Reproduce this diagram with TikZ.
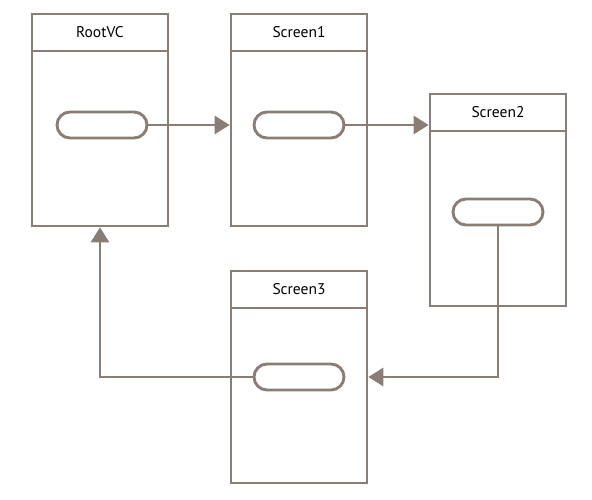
\documentclass[tikz,border=0pt]{standalone}
\usepackage{fontspec}
\setmainfont{PT Sans}
\usepackage{xcolor}
\usetikzlibrary{arrows.meta}

\definecolor{framegrey}{RGB}{137,125,118}

\begin{document}
\begin{tikzpicture}[
		x=1pt, y=-1pt,
		screenbox/.style={
			draw=framegrey,
			line width=2.7pt,
			minimum width=136pt,
			minimum height=212pt,
			inner sep=0pt
		},
		titlebar/.style={
			draw=framegrey,
			line width=2.7pt,
			minimum width=136pt,
			minimum height=37pt,
			inner sep=0pt,
			anchor=north,
			font=\fontsize{15.5}{17}\selectfont
		},
		pill/.style={
			draw=framegrey,
			line width=2.9pt,
			rounded corners=13pt,
			minimum width=90pt,
			minimum height=26pt,
			inner sep=0pt
		},
		arrow/.style={
			-{Triangle[length=15pt,width=18pt]},
			draw=framegrey,
			line width=2.9pt
		}
	]
		\useasboundingbox (0,0) rectangle (592,500);

		% screens
		\node[screenbox] (root) at (100,120) {};
		\node[titlebar] (roottitle) at (root.north) {RootVC};
		\node[screenbox] (screenone) at (299,120) {};
		\node[titlebar] (screenonetitle) at (screenone.north) {Screen1};
		\node[screenbox] (screentwo) at (498,200) {};
		\node[titlebar] (screentwotitle) at (screentwo.north) {Screen2};
		\node[screenbox] (screenthree) at (299,377) {};
		\node[titlebar] (screenthreetitle) at (screenthree.north) {Screen3};

		% buttons
		\node[pill] (rootbtn) at (102,125) {};
		\node[pill] (screenonebtn) at (299,125) {};
		\node[pill] (screentwobtn) at (498,212) {};
		\node[pill] (screenthreebtn) at (299,377) {};

		\draw[arrow] (rootbtn.east) -- (rootbtn.east -| screenone.west);
		\draw[arrow] (screenonebtn.east) -- (screenonebtn.east -| screentwo.west);
		\draw[arrow] (screentwobtn.south) |- (screenthree.east);
		\draw[arrow] (screenthreebtn.west) -| (root.south);
	\end{tikzpicture}
\end{document}
